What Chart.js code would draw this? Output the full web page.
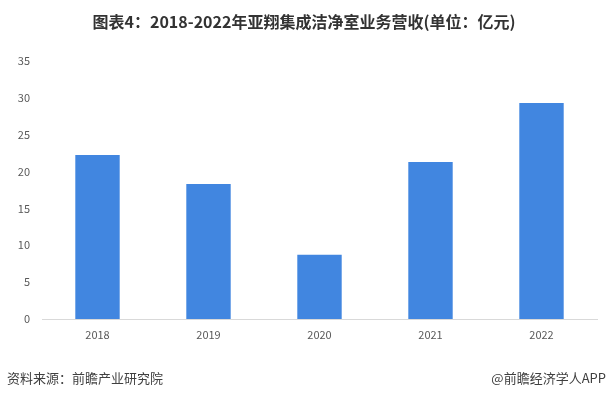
<!DOCTYPE html>
<html>
<head>
<meta charset="utf-8">
<script src="https://cdn.jsdelivr.net/npm/chart.js@4"></script>
<style>
  html, body { margin: 0; padding: 0; background: #fff; }
  #wrap { width: 609px; height: 398px; position: relative; }
</style>
</head>
<body>
<div id="wrap"><canvas id="myChart" width="609" height="398"></canvas></div>
<script>
var years = ['2018', '2019', '2020', '2021', '2022'];
var revenue = [22.25, 18.3, 8.7, 21.3, 29.3];
var yTicks = [0, 5, 10, 15, 20, 25, 30, 35];

var titleText = '图表4：2018-2022年亚翔集成洁净室业务营收(单位：亿元)';
var sourceText = '资料来源：前瞻产业研究院';
var brandText = '@前瞻经济学人APP';

var cjk = '"Microsoft YaHei", "Noto Sans CJK SC", sans-serif';

// title and footer drawn straight onto the canvas
var textPlugin = {
  id: 'texts',
  afterDraw: function(chart) {
    var ctx = chart.ctx;
    ctx.save();
    ctx.fillStyle = '#333333';
    ctx.font = 'bold 16px ' + cjk;
    ctx.textAlign = 'center';
    ctx.textBaseline = 'middle';
    ctx.fillText(titleText, 304, 22);

    ctx.font = '13px ' + cjk;
    ctx.fillStyle = '#404040';
    ctx.textAlign = 'left';
    ctx.fillText(sourceText, 7, 378);
    ctx.textAlign = 'right';
    ctx.fillText(brandText, 606, 378);
    ctx.restore();
  }
};

const ctx = document.getElementById('myChart');
new Chart(ctx, {
  type: 'bar',
  data: {
    labels: years,
    datasets: [{
      data: revenue,
      backgroundColor: '#4186E0',
      categoryPercentage: 0.4,
      barPercentage: 1.0
    }]
  },
  options: {
    responsive: false,
    animation: false,
    layout: { padding: { top: 61, bottom: 0, left: 17, right: 12 } },
    plugins: {
      legend: { display: false },
      tooltip: { enabled: false }
    },
    scales: {
      x: {
        afterFit: function(axis) { axis.height = 79; },
        grid: { display: false, drawTicks: false, tickLength: 0 },
        border: { display: true, color: '#d9d9d9' },
        ticks: { color: '#595959', padding: 9, font: { size: 11, family: cjk } }
      },
      y: {
        min: 0,
        max: 35,
        afterFit: function(axis) { axis.width = 25; },
        afterBuildTicks: function(axis) {
          axis.ticks = yTicks.map(function(v) { return { value: v }; });
        },
        grid: { display: false, drawTicks: false, tickLength: 0 },
        border: { display: false },
        ticks: { color: '#595959', padding: 12, font: { size: 11, family: cjk } }
      }
    }
  },
  plugins: [textPlugin]
});
</script>
</body>
</html>
